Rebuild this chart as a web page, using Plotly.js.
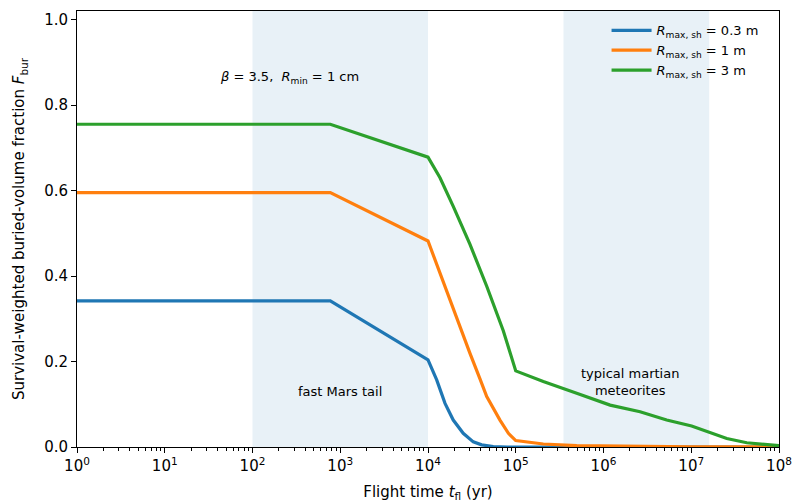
<!DOCTYPE html>
<html>
<head>
<meta charset="utf-8">
<script src="https://cdn.plot.ly/plotly-3.0.1.min.js"></script>
<style>html,body{margin:0;padding:0;background:#fff;}#chart{width:793px;height:504px;}</style>
</head>
<body>
<div id="chart"></div>
<script>
// Flight times (yr) and survival-weighted buried-volume fractions
const tBlue   = [1, 770, 1e4, 1.256e4, 1.563e4, 1.94e4, 2.52e4, 3.28e4, 4.09e4, 5.55e4, 8e4, 1e5, 1e6, 1e7, 1e8];
const fBlue   = [0.342, 0.342, 0.204, 0.157, 0.102, 0.063, 0.032, 0.012, 0.005, 0.001, 0.0, 0.0, 0.0, 0.0, 0.0];

const tOrange = [1, 770, 1e4, 1.37e4, 1.94e4, 3.01e4, 3.9e4, 4.67e4, 6.61e4, 8.25e4, 1e5, 1.45e5, 2.06e5, 4.95e5, 1.19e6, 1e7, 1e8];
const fOrange = [0.595, 0.595, 0.482, 0.406, 0.325, 0.219, 0.16, 0.118, 0.063, 0.032, 0.015, 0.011, 0.007, 0.003, 0.002, 0.0005, 0.0];

const tGreen  = [1, 770, 1e4, 1.37e4, 1.94e4, 3.01e4, 4.67e4, 7.21e4, 1e5, 2.06e5, 4.95e5, 1.19e6, 2.61e6, 5.25e6, 1.01e7, 1.64e7, 2.54e7, 4.29e7, 7.24e7, 1e8];
const fGreen  = [0.755, 0.755, 0.678, 0.630, 0.563, 0.474, 0.376, 0.272, 0.178, 0.153, 0.126, 0.098, 0.0826, 0.063, 0.049, 0.0335, 0.020, 0.010, 0.005, 0.003];

const seriesNames = ["<i>R</i><sub>max, sh</sub> = 0.3 m", "<i>R</i><sub>max, sh</sub> = 1 m", "<i>R</i><sub>max, sh</sub> = 3 m"];
const seriesColors = ["#1f77b4", "#ff7f0e", "#2ca02c"];

// Shaded flight-time bands (yr)
const fastTailBand = [100, 1e4];
const meteoriteBand = [3.5e5, 1.6e7];

// Tick labels
const xTickVals = [1, 10, 100, 1e3, 1e4, 1e5, 1e6, 1e7, 1e8];
const xTickText = ["10<sup>0</sup>","10<sup>1</sup>","10<sup>2</sup>","10<sup>3</sup>","10<sup>4</sup>","10<sup>5</sup>","10<sup>6</sup>","10<sup>7</sup>","10<sup>8</sup>"];
const yTickVals = [0, 0.2, 0.4, 0.6, 0.8, 1.0];

const minorVals = [];
for (let k = 0; k < 8; k++) for (let m = 2; m <= 9; m++) minorVals.push(m * Math.pow(10, k));

const xs = [tBlue, tOrange, tGreen];
const ys = [fBlue, fOrange, fGreen];
const traces = xs.map((x, i) => ({
  x: x, y: ys[i], type: "scatter", mode: "lines", name: seriesNames[i],
  line: {color: seriesColors[i], width: 3.2}
}));

const band = (b) => ({
  type: "rect", xref: "x", yref: "paper", x0: b[0], x1: b[1], y0: 0, y1: 1,
  fillcolor: "rgba(31,119,180,0.1)", line: {width: 0}, layer: "below"
});

const font = {family: "DejaVu Sans, sans-serif", color: "#000"};

const layout = {
  width: 793, height: 504,
  margin: {l: 77, r: 14, t: 11, b: 57},
  paper_bgcolor: "#fff", plot_bgcolor: "#fff",
  font: Object.assign({size: 13}, font),
  showlegend: true,
  legend: {x: 0.978, y: 0.99, xanchor: "right", yanchor: "top", bgcolor: "rgba(0,0,0,0)",
           font: Object.assign({size: 13}, font), itemwidth: 40, tracegroupgap: 0},
  xaxis: {
    type: "log", range: [0, 8], tickmode: "array", tickvals: xTickVals, ticktext: xTickText,
    ticks: "outside", ticklen: 5, tickwidth: 1, tickcolor: "#000",
    showline: true, linecolor: "#000", linewidth: 1, mirror: true,
    showgrid: false, zeroline: false,
    tickfont: Object.assign({size: 15}, font),
    minor: {tickmode: "array", tickvals: minorVals, ticks: "outside", ticklen: 3, tickcolor: "#000", showgrid: false},
    title: {text: "Flight time <i>t</i><sub>fl</sub> (yr)", font: Object.assign({size: 15}, font), standoff: 12}
  },
  yaxis: {
    range: [0, 1.02], tickmode: "array", tickvals: yTickVals, tickformat: ".1f",
    ticks: "outside", ticklen: 5, tickwidth: 1, tickcolor: "#000",
    showline: true, linecolor: "#000", linewidth: 1, mirror: true,
    showgrid: false, zeroline: false,
    tickfont: Object.assign({size: 15}, font),
    title: {text: "Survival-weighted buried-volume fraction <i>F</i><sub>bur</sub>", font: Object.assign({size: 15}, font), standoff: 15}
  },
  shapes: [band(fastTailBand), band(meteoriteBand)],
  annotations: [
    {xref: "paper", yref: "paper", x: 0.302, y: 0.848, xanchor: "center", yanchor: "middle",
     text: "<i>β</i> = 3.5,  <i>R</i><sub>min</sub> = 1 cm", showarrow: false, font: Object.assign({size: 13}, font)},
    {xref: "paper", yref: "paper", x: 0.375, y: 0.128, xanchor: "center", yanchor: "middle",
     text: "fast Mars tail", showarrow: false, font: Object.assign({size: 13}, font)},
    {xref: "paper", yref: "paper", x: 0.788, y: 0.148, xanchor: "center", yanchor: "middle",
     text: "typical martian<br>meteorites", showarrow: false, font: Object.assign({size: 13}, font)}
  ]
};

Plotly.newPlot("chart", traces, layout, {displayModeBar: false, staticPlot: true});
</script>
</body>
</html>
